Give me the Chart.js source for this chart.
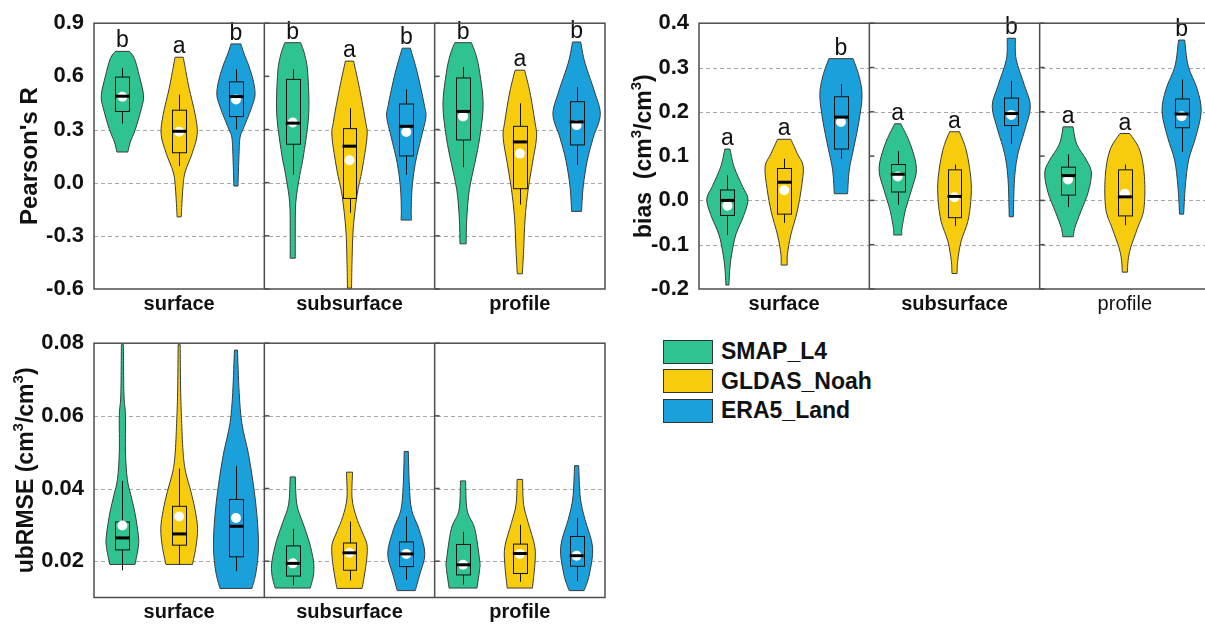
<!DOCTYPE html>
<html>
<head>
<meta charset="utf-8">
<title>violins</title>
<script src="https://cdn.jsdelivr.net/npm/chart.js@4.4.0/dist/chart.umd.min.js"></script>
<style>
  body { margin: 0; width: 1205px; height: 624px; overflow: hidden; background: #fff; position: relative;
         font-family: "Liberation Sans", Arial, sans-serif; }
  .box { position: absolute; }
  #legend { position: absolute; left: 663px; top: 337px; }
  .item { display: flex; align-items: center; height: 29.5px; }
  .sw { width: 48px; height: 22px; border: 1.5px solid #333; margin-right: 8px; }
  .item span { font-weight: bold; font-size: 23px; color: #111; }
</style>
</head>
<body>
<div class="box" style="left:0;top:0"><canvas id="rChart" width="620" height="320"></canvas></div>
<div class="box" style="left:620px;top:0"><canvas id="biasChart" width="600" height="320"></canvas></div>
<div class="box" style="left:0;top:320px"><canvas id="ubChart" width="620" height="304"></canvas></div>
<div id="legend"></div>
<script>
const groups = ['surface', 'subsurface', 'profile'];
const models = ['SMAP_L4', 'GLDAS_Noah', 'ERA5_Land'];
const colors = ['#2ec391', '#f7cc0c', '#1aa1dc'];

// violin outlines: [value, half width in % of one group], top to bottom
// order: surface (SMAP, GLDAS, ERA5), subsurface (...), profile (...)
const rShapes = [
  [[0.741,4.1],[0.70,7.1],[0.60,10.0],[0.493,12.4],[0.42,11.2],[0.30,7.6],[0.23,4.7],[0.173,3.2]],
  [[0.708,2.4],[0.62,4.1],[0.53,5.9],[0.384,9.4],[0.274,10.6],[0.165,7.6],[0.06,3.5],[-0.03,2.2],[-0.193,1.2]],
  [[0.783,2.9],[0.73,4.7],[0.658,7.6],[0.57,10.3],[0.493,11.2],[0.43,9.4],[0.383,7.6],[0.30,4.1],[0.255,2.4],[0.16,1.8],[-0.019,1.2]],
  [[0.79,4.7],[0.72,7.1],[0.62,8.8],[0.39,9.4],[0.164,6.5],[0.04,4.1],[-0.111,1.8],[-0.29,1.5],[-0.426,1.5]],
  [[0.686,2.4],[0.53,5.9],[0.347,9.4],[0.26,10.3],[0.072,7.4],[-0.07,4.4],[-0.258,2.2],[-0.44,1.5],[-0.595,1.2]],
  [[0.759,2.4],[0.62,6.5],[0.438,10.6],[0.37,11.5],[0.255,8.8],[0.11,5.3],[-0.02,3.5],[-0.15,2.9],[-0.211,3.1]],
  [[0.79,4.9],[0.72,7.6],[0.62,9.8],[0.44,11.8],[0.255,9.8],[0.109,6.9],[-0.038,3.7],[-0.2,2.2],[-0.345,1.8]],
  [[0.635,2.8],[0.512,5.9],[0.347,8.8],[0.255,9.8],[0.11,7.4],[-0.038,4.9],[-0.2,3.1],[-0.386,2.2],[-0.514,1.5]],
  [[0.794,2.4],[0.676,4.9],[0.512,10.6],[0.384,13.9],[0.255,9.8],[0.127,6.3],[-0.02,3.9],[-0.162,2.9]]
];
// [whisker low, q1, median, q3, whisker high, mean]
const rBoxes = [
  [0.334,0.402,0.488,0.596,0.646,0.485],
  [0.094,0.169,0.290,0.409,0.497,0.288],
  [0.301,0.373,0.486,0.569,0.640,0.470],
  [0.045,0.217,0.336,0.583,0.640,0.340],
  [-0.170,-0.089,0.206,0.305,0.420,0.127],
  [0.045,0.151,0.318,0.444,0.526,0.286],
  [0.087,0.241,0.402,0.591,0.653,0.374],
  [-0.124,-0.034,0.230,0.318,0.448,0.164],
  [0.100,0.213,0.343,0.457,0.539,0.325]
];
const rLetters = ['b','a','b','b','a','b','b','a','b'];
const rTicks = [-0.6, -0.3, 0, 0.3, 0.6, 0.9];
const rGrid = [-0.3, 0, 0.3];

const biasShapes = [
  [[0.116,1.5],[0.076,3.9],[0.032,8.8],[0.003,12.1],[-0.034,9.6],[-0.078,4.9],[-0.122,2.5],[-0.156,1.4],[-0.191,0.9]],
  [[0.138,3.9],[0.105,7.8],[0.076,11.2],[0.025,10.0],[-0.026,7.6],[-0.078,3.9],[-0.122,1.9],[-0.146,1.8]],
  [[0.32,7.1],[0.281,10.6],[0.237,12.4],[0.179,10.6],[0.12,7.6],[0.069,4.9],[0.015,3.9]],
  [[0.173,1.8],[0.127,7.4],[0.072,11.0],[0.025,8.2],[-0.019,4.7],[-0.063,2.5],[-0.078,2.4]],
  [[0.155,2.9],[0.113,6.9],[0.05,9.6],[0.0,9.6],[-0.048,7.8],[-0.092,3.9],[-0.136,1.9],[-0.165,1.5]],
  [[0.366,2.4],[0.318,2.9],[0.259,7.8],[0.212,11.2],[0.157,7.8],[0.105,3.9],[0.048,1.9],[-0.037,1.2]],
  [[0.166,2.9],[0.127,5.1],[0.091,10.8],[0.062,13.7],[0.018,11.8],[-0.026,7.4],[-0.063,3.9],[-0.082,3.1]],
  [[0.151,2.9],[0.113,8.8],[0.054,11.5],[-0.019,11.2],[-0.063,7.4],[-0.107,3.4],[-0.136,1.9],[-0.162,1.5]],
  [[0.362,1.8],[0.303,3.9],[0.252,9.1],[0.201,11.5],[0.142,8.2],[0.091,4.1],[0.033,2.2],[-0.031,1.2]]
];
const biasBoxes = [
  [-0.078,-0.034,0.000,0.0235,0.0565,-0.012],
  [-0.051,-0.031,0.041,0.072,0.094,0.023],
  [0.094,0.116,0.188,0.234,0.263,0.177],
  [-0.010,0.019,0.059,0.081,0.111,0.054],
  [-0.058,-0.039,0.009,0.069,0.081,0.007],
  [0.127,0.169,0.196,0.231,0.270,0.193],
  [-0.015,0.012,0.056,0.075,0.104,0.047],
  [-0.056,-0.035,0.008,0.069,0.081,0.015],
  [0.109,0.164,0.195,0.229,0.273,0.190]
];
const biasLetters = ['a','a','b','a','a','b','a','a','b'];
const biasTicks = [-0.2, -0.1, 0, 0.1, 0.2, 0.3, 0.4];
const biasGrid = [-0.1, 0, 0.2, 0.3];

const ubShapes = [
  [[0.0796,0.6],[0.066,0.9],[0.06,1.8],[0.05,1.8],[0.0425,2.9],[0.0383,4.9],[0.0332,7.4],[0.027,9.4],[0.024,9.4],[0.0191,7.4]],
  [[0.0796,0.6],[0.0664,0.9],[0.0579,1.5],[0.0494,2.4],[0.0443,3.9],[0.0392,6.9],[0.034,9.4],[0.0289,10.8],[0.0238,9.8],[0.0191,7.8]],
  [[0.0781,0.9],[0.0664,1.9],[0.0579,3.5],[0.0494,7.4],[0.0408,10.3],[0.0323,12.4],[0.0238,13.2],[0.017,11.8],[0.0125,9.4]],
  [[0.0432,1.5],[0.0357,2.4],[0.0306,5.9],[0.0255,9.6],[0.020,12.2],[0.0162,12.2],[0.0126,10.3]],
  [[0.0445,1.8],[0.0374,1.5],[0.0323,3.9],[0.0281,7.4],[0.0247,10.2],[0.021,10.2],[0.0162,8.8],[0.0125,7.4]],
  [[0.0502,1.2],[0.0408,1.8],[0.034,3.2],[0.0289,7.4],[0.0221,10.9],[0.0162,7.8],[0.0119,5.3]],
  [[0.0421,1.5],[0.034,2.4],[0.0289,6.9],[0.020,9.8],[0.018,9.8],[0.0126,8.2]],
  [[0.0425,1.6],[0.0357,2.2],[0.0306,4.9],[0.024,8.8],[0.019,8.8],[0.0126,7.4]],
  [[0.0463,1.2],[0.0374,2.2],[0.0315,4.9],[0.0238,9.4],[0.0162,7.4],[0.0119,4.4]]
];
const ubBoxes = [
  [0.0175,0.0231,0.0264,0.0308,0.0421,0.0298],
  [0.0191,0.0244,0.0275,0.0351,0.0455,0.0323],
  [0.0173,0.0212,0.0296,0.0370,0.0462,0.0319],
  [0.0134,0.0159,0.0194,0.0242,0.0289,0.0194],
  [0.0147,0.0175,0.0223,0.0250,0.0309,0.0223],
  [0.0149,0.0185,0.0220,0.0253,0.0323,0.0220],
  [0.0136,0.0162,0.0190,0.0246,0.0281,0.0190],
  [0.0143,0.0166,0.0221,0.0247,0.0300,0.0220],
  [0.0145,0.0186,0.0215,0.0268,0.0319,0.0215]
];
const ubTicks = [0.02, 0.04, 0.06, 0.08];
const ubGrid = [0.02, 0.04, 0.06];

// axis titles, pieces flagged 1 are superscripts
const rTitle = [["Pearson's R", 0]];
const biasTitle = [['bias  (cm', 0], ['3', 1], ['/cm', 0], ['3', 1], [')', 0]];
const ubTitle = [['ubRMSE (cm', 0], ['3', 1], ['/cm', 0], ['3', 1], [')', 0]];

const FONT = '"Liberation Sans", Arial, sans-serif';
const offsets = [1 / 6, 1 / 2, 5 / 6];
const boxHalf = 0.041;

function smooth(ctx, p) {
  for (let i = 0; i < p.length - 1; i++) {
    const p0 = p[Math.max(i - 1, 0)], p1 = p[i], p2 = p[i + 1], p3 = p[Math.min(i + 2, p.length - 1)];
    ctx.bezierCurveTo(p1.x + (p2.x - p0.x) / 6, p1.y + (p2.y - p0.y) / 6,
                      p2.x - (p3.x - p1.x) / 6, p2.y - (p3.y - p1.y) / 6, p2.x, p2.y);
  }
}

const violinPlugin = {
  id: 'violins',
  beforeDatasetsDraw(chart, args, o) {
    const { ctx, chartArea: a, scales: { x, y } } = chart;
    ctx.save();
    ctx.strokeStyle = '#a8a8a8';
    ctx.lineWidth = 1;
    ctx.setLineDash([4, 3]);
    o.grid.forEach(v => {
      const py = Math.round(y.getPixelForValue(v)) + 0.5;
      ctx.beginPath(); ctx.moveTo(a.left, py); ctx.lineTo(a.right, py); ctx.stroke();
    });
    ctx.setLineDash([]);

    o.shapes.forEach((shape, i) => {
      const c = Math.floor(i / 3) + offsets[i % 3];
      const right = shape.map(([v, w]) => ({ x: x.getPixelForValue(c + w / 100), y: y.getPixelForValue(v) }));
      const left = shape.map(([v, w]) => ({ x: x.getPixelForValue(c - w / 100), y: y.getPixelForValue(v) })).reverse();
      ctx.beginPath();
      ctx.moveTo(left[left.length - 1].x, left[left.length - 1].y);
      ctx.lineTo(right[0].x, right[0].y);
      smooth(ctx, right);
      ctx.lineTo(left[0].x, left[0].y);
      smooth(ctx, left);
      ctx.closePath();
      ctx.fillStyle = colors[i % 3];
      ctx.fill();
      ctx.strokeStyle = '#3a3a3a';
      ctx.lineWidth = 1;
      ctx.stroke();

      // box and whiskers
      const [lo, q1, med, q3, hi] = o.boxes[i];
      const cx = Math.round(x.getPixelForValue(c)) + 0.5;
      const bl = Math.round(x.getPixelForValue(c - boxHalf)) + 0.5;
      const br = Math.round(x.getPixelForValue(c + boxHalf)) + 0.5;
      ctx.strokeStyle = '#111';
      ctx.beginPath();
      ctx.moveTo(cx, y.getPixelForValue(hi)); ctx.lineTo(cx, y.getPixelForValue(q3));
      ctx.moveTo(cx, y.getPixelForValue(q1)); ctx.lineTo(cx, y.getPixelForValue(lo));
      ctx.stroke();
      ctx.strokeRect(bl, y.getPixelForValue(q3), br - bl, y.getPixelForValue(q1) - y.getPixelForValue(q3));
    });
    ctx.restore();
  },
  afterDatasetsDraw(chart, args, o) {
    const { ctx, chartArea: a, scales: { x, y } } = chart;
    ctx.save();
    // medians
    o.boxes.forEach((b, i) => {
      const c = Math.floor(i / 3) + offsets[i % 3];
      const py = y.getPixelForValue(b[2]);
      ctx.strokeStyle = '#000';
      ctx.lineWidth = 3;
      ctx.beginPath();
      ctx.moveTo(x.getPixelForValue(c - boxHalf), py);
      ctx.lineTo(x.getPixelForValue(c + boxHalf), py);
      ctx.stroke();
    });
    // letters
    ctx.fillStyle = '#111';
    ctx.font = '23px ' + FONT;
    ctx.textAlign = 'center';
    ctx.textBaseline = 'alphabetic';
    (o.letters || []).forEach((t, i) => {
      const c = Math.floor(i / 3) + offsets[i % 3];
      ctx.fillText(t, x.getPixelForValue(c), y.getPixelForValue(o.shapes[i][0][0]) - 4);
    });
    // frame, facet dividers and their inner ticks
    ctx.strokeStyle = '#4d4d4d';
    ctx.lineWidth = 1.5;
    ctx.strokeRect(a.left, a.top, a.right - a.left, a.bottom - a.top);
    [1, 2].forEach(g => {
      const px = x.getPixelForValue(g);
      ctx.beginPath(); ctx.moveTo(px, a.top); ctx.lineTo(px, a.bottom); ctx.stroke();
      o.ticks.forEach(v => {
        const py = y.getPixelForValue(v);
        ctx.beginPath(); ctx.moveTo(px, py); ctx.lineTo(px + 5, py); ctx.stroke();
      });
    });
    // y title
    ctx.fillStyle = '#111';
    ctx.textAlign = 'left';
    ctx.textBaseline = 'middle';
    const big = 'bold ' + o.titleSize + 'px ' + FONT, small = 'bold 15px ' + FONT;
    let total = 0;
    o.title.forEach(([s, sup]) => { ctx.font = sup ? small : big; total += ctx.measureText(s).width; });
    ctx.translate(o.titleX, (a.top + a.bottom) / 2);
    ctx.rotate(-Math.PI / 2);
    let pos = -total / 2;
    o.title.forEach(([s, sup]) => {
      ctx.font = sup ? small : big;
      ctx.fillText(s, pos, sup ? -8 : 0);
      pos += ctx.measureText(s).width;
    });
    ctx.restore();
  }
};

function makeChart(id, cfg) {
  const means = cfg.boxes.map((b, i) => ({ x: Math.floor(i / 3) + offsets[i % 3], y: b[5] }));
  return new Chart(document.getElementById(id), {
    type: 'scatter',
    data: {
      datasets: [{
        data: means,
        pointRadius: 5,
        pointBackgroundColor: '#fff',
        pointBorderWidth: 0,
        borderColor: '#fff',
        clip: false
      }]
    },
    options: {
      responsive: false,
      animation: false,
      layout: { padding: cfg.padding },
      plugins: {
        legend: { display: false },
        tooltip: { enabled: false },
        violins: cfg
      },
      scales: {
        x: {
          type: 'linear', min: 0, max: 3,
          grid: { display: false, drawTicks: false },
          border: { display: false },
          afterBuildTicks: s => { s.ticks = [0.5, 1.5, 2.5].map(v => ({ value: v })); },
          afterFit: s => { s.height = cfg.xHeight; },
          ticks: {
            autoSkip: false, maxRotation: 0, padding: 3, color: '#111',
            font: c => ({ family: FONT, size: 20, weight: (cfg.plainLast && c.index === 2) ? 'normal' : 'bold' }),
            callback: (v, i) => groups[i]
          }
        },
        y: {
          type: 'linear', min: cfg.min, max: cfg.max,
          grid: { display: false, drawTicks: false },
          border: { display: false },
          afterBuildTicks: s => { s.ticks = cfg.ticks.map(v => ({ value: v })); },
          afterFit: s => { s.width = cfg.yWidth; },
          ticks: {
            padding: 10, color: '#111',
            font: { family: FONT, size: 22, weight: 'bold' },
            callback: v => v.toFixed(cfg.decimals)
          }
        }
      }
    },
    plugins: [violinPlugin]
  });
}

makeChart('rChart', {
  shapes: rShapes, boxes: rBoxes, letters: rLetters, ticks: rTicks, grid: rGrid,
  min: -0.6, max: 0.9, decimals: 1, title: rTitle, titleSize: 24, titleX: 30,
  padding: { top: 16, right: 15, left: 0, bottom: 0 }, yWidth: 94, xHeight: 31
});
makeChart('biasChart', {
  shapes: biasShapes, boxes: biasBoxes, letters: biasLetters, ticks: biasTicks, grid: biasGrid,
  min: -0.2, max: 0.4, decimals: 1, title: biasTitle, titleSize: 23, titleX: 25, plainLast: true,
  padding: { top: 16, right: 10, left: 0, bottom: 0 }, yWidth: 79, xHeight: 31
});
makeChart('ubChart', {
  shapes: ubShapes, boxes: ubBoxes, ticks: ubTicks, grid: ubGrid,
  min: 0.01, max: 0.08, decimals: 2, title: ubTitle, titleSize: 23, titleX: 27,
  padding: { top: 3.3, right: 15, left: 0, bottom: 0 }, yWidth: 94, xHeight: 26.5
});

// legend
const legend = document.getElementById('legend');
models.forEach((m, i) => {
  const row = document.createElement('div');
  row.className = 'item';
  row.innerHTML = '<div class="sw" style="background:' + colors[i] + '"></div><span>' + m + '</span>';
  legend.appendChild(row);
});
</script>
</body>
</html>
